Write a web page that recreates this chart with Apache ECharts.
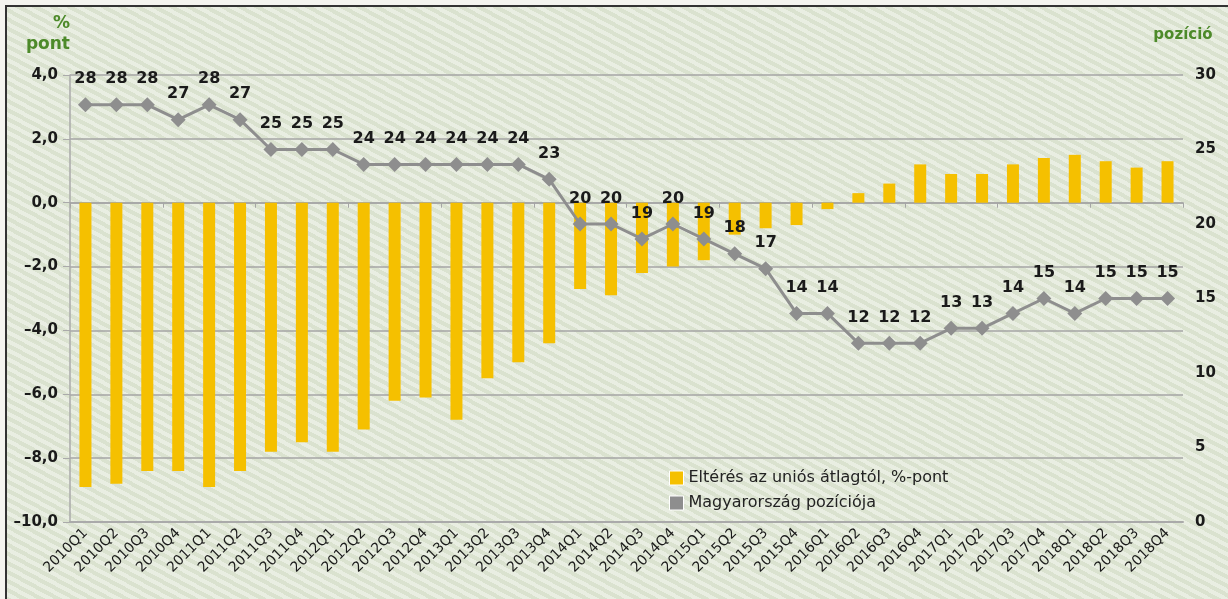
<!DOCTYPE html>
<html>
<head>
<meta charset="utf-8">
<script src="https://cdn.jsdelivr.net/npm/echarts@6/dist/echarts.min.js"></script>
<style>
html,body{margin:0;padding:0;background:#f4f4ef;overflow:hidden;}
#wrap{position:absolute;left:5px;top:5px;width:1223px;height:594px;border-top:2px solid #333;border-left:2px solid #333;
  background:repeating-linear-gradient(28deg,#dae2cf 0px,#dae2cf 4px,#e9eee2 4px,#e9eee2 8px);}
#chart{width:1223px;height:594px;}
</style>
</head>
<body>
<div id="wrap"><div id="chart"></div></div>
<script>
var quarters = ['2010Q1','2010Q2','2010Q3','2010Q4','2011Q1','2011Q2','2011Q3','2011Q4',
  '2012Q1','2012Q2','2012Q3','2012Q4','2013Q1','2013Q2','2013Q3','2013Q4',
  '2014Q1','2014Q2','2014Q3','2014Q4','2015Q1','2015Q2','2015Q3','2015Q4',
  '2016Q1','2016Q2','2016Q3','2016Q4','2017Q1','2017Q2','2017Q3','2017Q4',
  '2018Q1','2018Q2','2018Q3','2018Q4'];
var deviation = [-8.9,-8.8,-8.4,-8.4,-8.9,-8.4,-7.8,-7.5,
  -7.8,-7.1,-6.2,-6.1,-6.8,-5.5,-5.0,-4.4,
  -2.7,-2.9,-2.2,-2.0,-1.8,-1.0,-0.8,-0.7,
  -0.2,0.3,0.6,1.2,0.9,0.9,1.2,1.4,
  1.5,1.3,1.1,1.3];
var position = [28,28,28,27,28,27,25,25,
  25,24,24,24,24,24,24,23,
  20,20,19,20,19,18,17,14,
  14,12,12,12,13,13,14,15,
  14,15,15,15];

var font = 'DejaVu Sans';
var myChart = echarts.init(document.getElementById('chart'));
var option = {
  textStyle: { fontFamily: font },
  grid: { left: 63, right: 47, top: 68, bottom: 79 },
  legend: {
    orient: 'vertical', left: 657, top: 458, itemGap: 9,
    itemWidth: 14, itemHeight: 14,
    textStyle: { fontSize: 16, color: '#222', fontFamily: font },
    data: [
      { name: 'Eltérés az uniós átlagtól, %-pont', icon: 'rect', itemStyle: { borderColor: '#fff', borderWidth: 1 } },
      { name: 'Magyarország pozíciója', icon: 'rect', itemStyle: { color: '#8e8e8e', borderColor: '#fff', borderWidth: 1 } }
    ]
  },
  xAxis: [{
    type: 'category', data: quarters,
    axisLine: { onZero: false, lineStyle: { color: '#aaa', width: 2 } },
    axisTick: { show: false },
    axisLabel: { rotate: 45, interval: 0, fontSize: 14, color: '#1a1a1a', margin: 9 }
  }, {
    type: 'category', data: quarters, position: 'bottom',
    axisLine: { onZero: true, onZeroAxisIndex: 0, lineStyle: { color: '#a5a5a5', width: 1.5 } },
    axisTick: { show: true, length: 5, inside: false, lineStyle: { color: '#a5a5a5' } },
    axisLabel: { show: false }
  }],
  yAxis: [{
    type: 'value', min: -10, max: 4, interval: 2,
    name: '%\npont', nameLocation: 'end', nameGap: 20,
    nameTextStyle: { color: '#4d8a2a', fontWeight: 'bold', fontSize: 17, align: 'right', padding: [0, 0, 0, 0], lineHeight: 21 },
    axisLine: { show: true, lineStyle: { color: '#aaa', width: 1.5 } },
    axisTick: { show: true, length: 7, lineStyle: { color: '#aaa' } },
    splitLine: { lineStyle: { color: '#a5a5a5', width: 1.5 } },
    axisLabel: { fontSize: 15, fontWeight: 'bold', color: '#1a1a1a', margin: 12,
      formatter: function (v) { return v.toFixed(1).replace('.', ',').replace('-', '–'); } }
  }, {
    type: 'value', min: 0, max: 30, interval: 5,
    name: 'pozíció', nameLocation: 'end', nameGap: 32,
    nameTextStyle: { color: '#4d8a2a', fontWeight: 'bold', fontSize: 15, align: 'center', padding: [0, 0, 0, 0] },
    axisLine: { show: false }, axisTick: { show: false }, splitLine: { show: false },
    axisLabel: { fontSize: 15, fontWeight: 'bold', color: '#1a1a1a', margin: 12 }
  }],
  series: [{
    name: 'Eltérés az uniós átlagtól, %-pont', type: 'bar', data: deviation,
    barWidth: 12, itemStyle: { color: '#f5c000' }
  }, {
    name: 'Magyarország pozíciója', type: 'line', yAxisIndex: 1, data: position,
    symbol: 'diamond', symbolSize: 15,
    lineStyle: { color: '#8e8e8e', width: 3 },
    itemStyle: { color: '#8e8e8e' },
    label: { show: true, position: 'top', distance: 10, fontSize: 16, fontWeight: 'bold', color: '#1a1a1a' }
  }]
};
myChart.setOption(option);
</script>
</body>
</html>
